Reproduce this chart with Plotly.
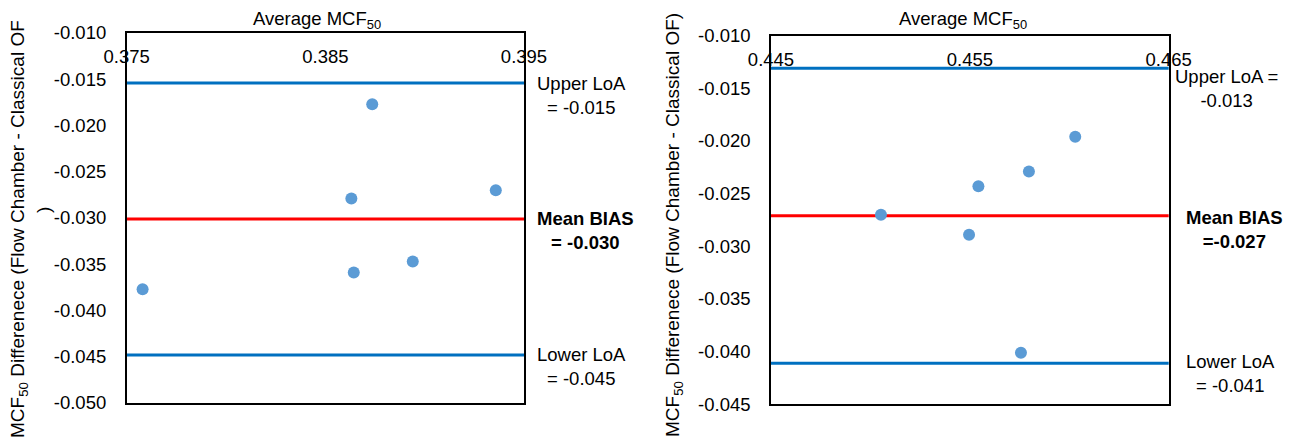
import plotly.graph_objects as go

# Left panel data
left_avg = [0.3758, 0.38736, 0.38631, 0.39358, 0.38643, 0.3894]
left_diff = [-0.0377, -0.0177, -0.0279, -0.0270, -0.0359, -0.0347]
left_upper = -0.0154
left_mean = -0.0301
left_lower = -0.0448
left_xticks = [0.375, 0.385, 0.395]
left_yticks = [-0.050, -0.045, -0.040, -0.035, -0.030, -0.025, -0.020, -0.015, -0.010]
left_yticktext = ["-0.050", "-0.045", "-0.040", "-0.035", "-0.030", "-0.025", "-0.020", "-0.015", "-0.010"]

# Right panel data
right_avg = [0.45053, 0.45543, 0.45496, 0.45797, 0.4603, 0.45757]
right_diff = [-0.0270, -0.0243, -0.0289, -0.0229, -0.0196, -0.0401]
right_upper = -0.0131
right_mean = -0.0271
right_lower = -0.0411
right_xticks = [0.445, 0.455, 0.465]
right_yticks = [-0.045, -0.040, -0.035, -0.030, -0.025, -0.020, -0.015, -0.010]
right_yticktext = ["-0.045", "-0.040", "-0.035", "-0.030", "-0.025", "-0.020", "-0.015", "-0.010"]

left_labels = ["Upper LoA<br>= -0.015", "<b>Mean BIAS<br>= -0.030</b>", "Lower LoA<br>= -0.045"]
right_labels = ["Upper LoA =<br>-0.013", "<b>Mean BIAS<br>=-0.027</b>", "Lower LoA<br>= -0.041"]
x_title = "Average MCF<sub>50</sub>"
y_title = "MCF<sub>50</sub> Differenece (Flow Chamber - Classical OF"

# page body has an 8px margin; figure reaches the window's right/bottom edges
OFF = 8
FW, FH = 1295 - OFF, 439 - OFF

def px(x):
    return (x - OFF) / FW

def py(y):
    return 1 - (y - OFF) / FH

FONT = "Arial, Liberation Sans, sans-serif"
FS = 18.5
BLUE = "#0070C0"
RED = "#FF0000"
DOT = "#5B9BD5"

fig = go.Figure()
fig.add_trace(go.Scatter(x=left_avg, y=left_diff, mode="markers",
                         marker=dict(size=12, color=DOT), xaxis="x", yaxis="y", showlegend=False))
fig.add_trace(go.Scatter(x=right_avg, y=right_diff, mode="markers",
                         marker=dict(size=12, color=DOT), xaxis="x2", yaxis="y2", showlegend=False))

def hline(xref, yref, val, color):
    fig.add_shape(type="line", xref=xref + " domain", yref=yref, x0=0, x1=1, y0=val, y1=val,
                  line=dict(color=color, width=3), layer="below")

hline("x", "y", left_upper, BLUE)
hline("x", "y", left_mean, RED)
hline("x", "y", left_lower, BLUE)
hline("x2", "y2", right_upper, BLUE)
hline("x2", "y2", right_mean, RED)
hline("x2", "y2", right_lower, BLUE)

for txt, val, xp, ys in zip(left_labels, [left_upper, left_mean, left_lower], [581, 585, 581], [-13, -12, -12]):
    fig.add_annotation(text=txt, xref="paper", x=px(xp), yref="y", y=val, yshift=ys,
                       showarrow=False, xanchor="center", yanchor="middle",
                       font=dict(family=FONT, size=FS, color="black"))
for txt, val, xp, ys in zip(right_labels, [right_upper, right_mean, right_lower], [1226, 1234, 1230], [-20, -14, -10]):
    fig.add_annotation(text=txt, xref="paper", x=px(xp), yref="y2", y=val, yshift=ys,
                       showarrow=False, xanchor="center", yanchor="middle",
                       font=dict(family=FONT, size=FS, color="black"))

# x-axis titles (above the top axis)
for xc in [317, 963]:
    fig.add_annotation(text=x_title, xref="paper", yref="paper", x=px(xc), y=py(20),
                       showarrow=False, xanchor="center", yanchor="middle",
                       font=dict(family=FONT, size=FS, color="black"))

# y-axis titles (rotated)
yt_font = dict(family=FONT, size=19, color="black")
fig.add_annotation(text=y_title, textangle=-90, xref="paper", yref="paper", x=px(19), y=py(229),
                   showarrow=False, xanchor="center", yanchor="middle", font=yt_font)
fig.add_annotation(text=")", textangle=-90, xref="paper", yref="paper", x=px(43), y=py(210),
                   showarrow=False, xanchor="center", yanchor="middle", font=yt_font)
fig.add_annotation(text=y_title + ")", textangle=-90, xref="paper", yref="paper", x=px(674), y=py(225),
                   showarrow=False, xanchor="center", yanchor="middle", font=yt_font)

xcommon = dict(side="top", tickformat=".3f", showgrid=False, zeroline=False, automargin=False,
               showline=True, mirror=True, linecolor="black", linewidth=1.5,
               ticks="", ticklabelposition="inside", ticklabeloverflow="allow", ticklabelstandoff=18,
               tickfont=dict(family=FONT, size=FS, color="black"))
ycommon = dict(showgrid=False, zeroline=False, automargin=False,
               showline=True, mirror=True, linecolor="black", linewidth=1.5,
               ticks="", ticklabelstandoff=15,
               tickfont=dict(family=FONT, size=FS, color="black"))

fig.update_layout(
    width=FW, height=FH, margin=dict(l=0, r=0, t=0, b=0),
    plot_bgcolor="white", paper_bgcolor="white",
    xaxis=dict(xcommon, domain=[px(126.7), px(524)], range=[left_xticks[0], left_xticks[-1]],
               tickvals=left_xticks, anchor="y"),
    yaxis=dict(ycommon, domain=[py(403), py(33)], range=[left_yticks[0], left_yticks[-1]],
               tickvals=left_yticks, ticktext=left_yticktext, anchor="x"),
    xaxis2=dict(xcommon, domain=[px(771), px(1168.7)], range=[right_xticks[0], right_xticks[-1]],
                tickvals=right_xticks, anchor="y2"),
    yaxis2=dict(ycommon, domain=[py(404.3), py(35.7)], range=[right_yticks[0], right_yticks[-1]],
                tickvals=right_yticks, ticktext=right_yticktext, anchor="x2"),
)

fig.write_html("out.html")
